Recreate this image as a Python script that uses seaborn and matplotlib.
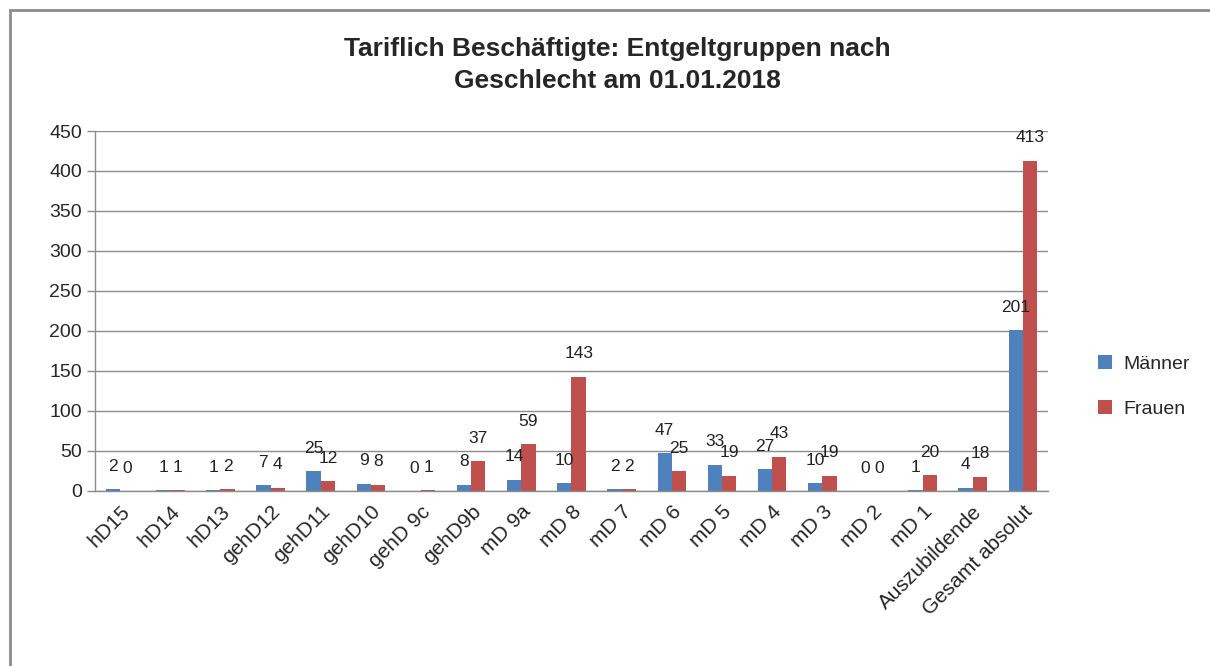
import matplotlib
matplotlib.use("Agg")
import matplotlib.pyplot as plt
import seaborn as sns
import pandas as pd
from matplotlib.patches import Rectangle, Patch

categories = ["hD15", "hD14", "hD13", "gehD12", "gehD11", "gehD10", "gehD 9c", "gehD9b",
              "mD 9a", "mD 8", "mD 7", "mD 6", "mD 5", "mD 4", "mD 3", "mD 2", "mD 1",
              "Auszubildende", "Gesamt absolut"]
maenner = [2, 1, 1, 7, 25, 9, 0, 8, 14, 10, 2, 47, 33, 27, 10, 0, 1, 4, 201]
frauen = [0, 1, 2, 4, 12, 8, 1, 37, 59, 143, 2, 25, 19, 43, 19, 0, 20, 18, 413]
series = ["Männer", "Frauen"]
colors = ["#4F81BD", "#C0504D"]
title = "Tariflich Beschäftigte: Entgeltgruppen nach\nGeschlecht am 01.01.2018"

df = pd.DataFrame({
    "Gruppe": categories * 2,
    "Wert": maenner + frauen,
    "Geschlecht": [series[0]] * len(categories) + [series[1]] * len(categories),
})

sns.set_style("white")
plt.rcParams["font.family"] = ["Liberation Sans", "DejaVu Sans"]

fig = plt.figure(figsize=(12.1, 6.66), dpi=100)
ax = fig.add_axes([0.0785, 0.2628, 0.7876, 0.5405])

sns.barplot(data=df, x="Gruppe", y="Wert", hue="Geschlecht", order=categories,
            hue_order=series, palette=colors, width=0.57, gap=0, saturation=1,
            edgecolor="none", linewidth=0, ax=ax, legend=False, errorbar=None)

for cont, vals in zip(ax.containers, [maenner, frauen]):
    ax.bar_label(cont, labels=[str(v) for v in vals], padding=11, fontsize=12.5,
                 color="#222222")

ax.set_xlim(-0.5, len(categories) - 0.5)
ax.set_ylim(0, 450)
ax.set_yticks(range(0, 451, 50))
ax.yaxis.grid(True, color="#8c8c8c", linewidth=1)
ax.set_axisbelow(True)
ax.set_xlabel("")
ax.set_ylabel("")
for s in ["top", "right"]:
    ax.spines[s].set_visible(False)
for s in ["left", "bottom"]:
    ax.spines[s].set_color("#8c8c8c")
    ax.spines[s].set_linewidth(1)

ax.set_xticks(range(len(categories)))
ax.set_xticklabels(categories, rotation=45, ha="right", rotation_mode="anchor",
                   fontsize=15)
ax.set_xticks([i - 0.5 for i in range(len(categories) + 1)], minor=True)
ax.tick_params(axis="x", which="major", length=0, pad=8)
ax.tick_params(axis="x", which="minor", length=6, color="#8c8c8c", width=1,
               direction="out")
ax.tick_params(axis="y", length=6, color="#8c8c8c", width=1, direction="out",
               labelsize=14, left=True)

fig.text(0.51, 0.902, title, ha="center", va="center", fontsize=19,
         fontweight="bold", linespacing=1.4)

handles = [Patch(facecolor=c, edgecolor="none") for c in colors]
fig.legend(handles, series, loc="center left", bbox_to_anchor=(0.893, 0.42),
           frameon=False, fontsize=14, handlelength=0.7, handleheight=0.7,
           labelspacing=1.4, handletextpad=0.6)

fig.patches.append(Rectangle((10 / 1210, -0.1), 1.2, 0.1 + 1 - 10 / 666,
                             transform=fig.transFigure, fill=False,
                             edgecolor="#8c8c8c", linewidth=2))

fig.savefig("out.png", dpi=100)
